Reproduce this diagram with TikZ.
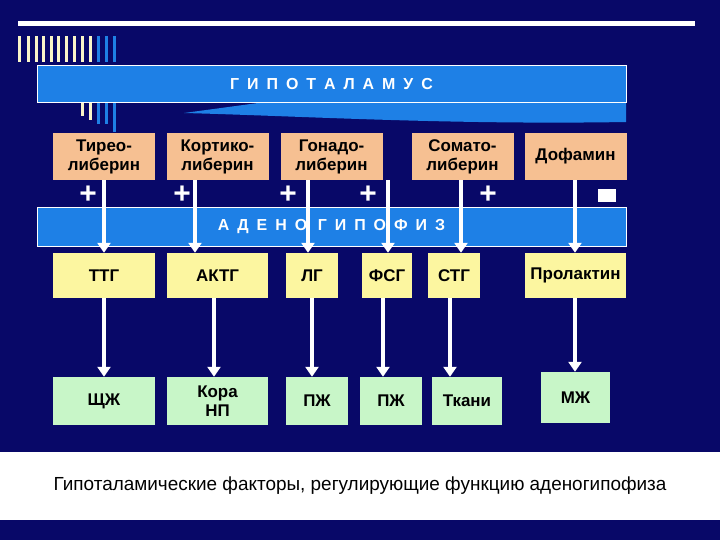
\documentclass[tikz,border=0pt]{standalone}
\usepackage{fontspec}
\setmainfont{Liberation Sans}
\usetikzlibrary{arrows.meta}
\definecolor{navy}{RGB}{8,8,104}
\definecolor{barblue}{RGB}{30,128,230}
\definecolor{orng}{RGB}{246,192,146}
\definecolor{yel}{RGB}{252,246,160}
\definecolor{grn}{RGB}{200,246,200}
\definecolor{cream}{RGB}{250,245,200}
\begin{document}
\begin{tikzpicture}[x=1bp,y=-1bp,
 box/.style={draw=none,minimum height=#1,inner sep=0,font=\bfseries\fontsize{17}{19}\selectfont,text=black,align=center},
 bar/.style={fill=barblue,draw=white,line width=0.8pt},
 arr/.style={draw=white,line width=4pt,-{Triangle[length=10pt,width=13pt]}},
 plus/.style={font=\bfseries\fontsize{30}{30}\selectfont,text=white}]
\useasboundingbox (0,0) rectangle (720,540);
\fill[navy] (0,0) rectangle (720,540);
\fill[white] (0,452) rectangle (720,520);
\fill[white] (18,21) rectangle (695,26);
% decorative bars
\foreach \x/\c in {18/cream,27/cream,35/cream,42/cream,50/cream,57/cream,65/cream,73/cream,81/cream,89/cream,97/barblue,105/barblue,113/barblue}
  \fill[\c] (\x,36) rectangle ++(3,26);
\fill[cream] (81,102) rectangle ++(3,14);
\fill[cream] (89,102) rectangle ++(3,18);
\fill[barblue] (97,102) rectangle ++(3,22);
\fill[barblue] (105,102) rectangle ++(3,22);
\fill[barblue] (113,102) rectangle ++(3,30);
% hypothalamus
\fill[barblue] (258,103) rectangle (626,110) (184,113) .. controls (300,116) and (450,125) .. (626,122) -- (626,110) -- (258,110) -- (258,103) -- cycle;
\node[bar,minimum width=589bp,minimum height=37bp] (hyp) at (331.5,84) {};
\node[text=white,font=\bfseries\fontsize{16}{16}\selectfont] (hypt) at (331.5,84) {Г\,\,\,И\,\,\,П\,\,\,О\,\,\,Т\,\,\,А\,\,\,Л\,\,\,А\,\,\,М\,\,\,У\,\,\,С};
% releasing
\tikzset{ob/.style={box=47bp,fill=orng,minimum width=102bp}}
\node[ob] (t) at (104,156.5) {Тирео-\\либерин};
\node[ob] (k) at (217.5,156.5) {Кортико-\\либерин};
\node[ob] (g) at (331.5,156.5) {Гонадо-\\либерин};
\node[ob] (s) at (462.5,156.5) {Сомато-\\либерин};
\node[ob] (d) at (575.5,156.5) {Дофамин};
% signs
\node[plus] (p1) at (88,195) {+};
\node[plus] (p2) at (182,195) {+};
\node[plus] (p3) at (288,195) {+};
\node[plus] (p4) at (368,195) {+};
\node[plus] (p5) at (488,195) {+};
\fill[white] (598,189) rectangle (616,202);
% adenohypophysis
\node[bar,minimum width=589bp,minimum height=39bp] (ad) at (331.5,226.5) {};
% yellow
\tikzset{yb/.style={box=45bp,fill=yel,minimum width=#1}}
\node[yb=102bp] (ttg) at (104,275.5) {ТТГ};
\node[yb=101bp] (aktg) at (217.5,275.5) {АКТГ};
\node[yb=52bp] (lg) at (312,275.5) {ЛГ};
\node[yb=50bp] (fsg) at (387,275.5) {ФСГ};
\node[yb=52bp] (stg) at (454,275.5) {СТГ};
\node[yb=101bp] (prl) at (575.5,275.5) {Пролактин};
% green
\tikzset{gb/.style={box=48bp,fill=grn,minimum width=#1}}
\node[gb=102bp] (shzh) at (104,401) {ЩЖ};
\node[gb=101bp] (kora) at (217.5,401) {Кора\\НП};
\node[gb=62bp] (pzh1) at (317,401) {ПЖ};
\node[gb=62bp] (pzh2) at (391,401) {ПЖ};
\node[gb=70bp] (tk) at (467,401) {Ткани};
\node[gb=69bp,minimum height=51bp] (mzh) at (575.5,397.5) {МЖ};
% arrows upper
\draw[arr] (t.south -| 104,0) -- (ttg.north -| 104,0);
\draw[arr] (k.south -| 195,0) -- (aktg.north -| 195,0);
\draw[arr] (g.south -| 308,0) -- (lg.north -| 308,0);
\draw[arr] (g.south -| 388,0) -- (fsg.north -| 388,0);
\draw[arr] (s.south -| 461,0) -- (stg.north -| 461,0);
\draw[arr] (d.south -| 575,0) -- (prl.north -| 575,0);
\node[text=white,font=\bfseries\fontsize{16}{16}\selectfont] (adt) at (331.5,226.5) {А\,\,\,Д\,\,\,Е\,\,\,Н\,\,\,О\,\,\,\,Г\,\,\,И\,\,\,П\,\,\,О\,\,\,Ф\,\,\,И\,\,\,З};
% arrows lower
\draw[arr] (ttg.south -| 104,0) -- (shzh.north -| 104,0);
\draw[arr] (aktg.south -| 214,0) -- (kora.north -| 214,0);
\draw[arr] (lg.south -| 312,0) -- (pzh1.north -| 312,0);
\draw[arr] (fsg.south -| 383,0) -- (pzh2.north -| 383,0);
\draw[arr] (stg.south -| 450,0) -- (tk.north -| 450,0);
\draw[arr] (prl.south -| 575,0) -- (mzh.north -| 575,0);
% caption
\node[font=\fontsize{19}{20}\selectfont,text=black] (cap) at (360,486) {Гипоталамические факторы, регулирующие функцию аденогипофиза};
\end{tikzpicture}
\end{document}
